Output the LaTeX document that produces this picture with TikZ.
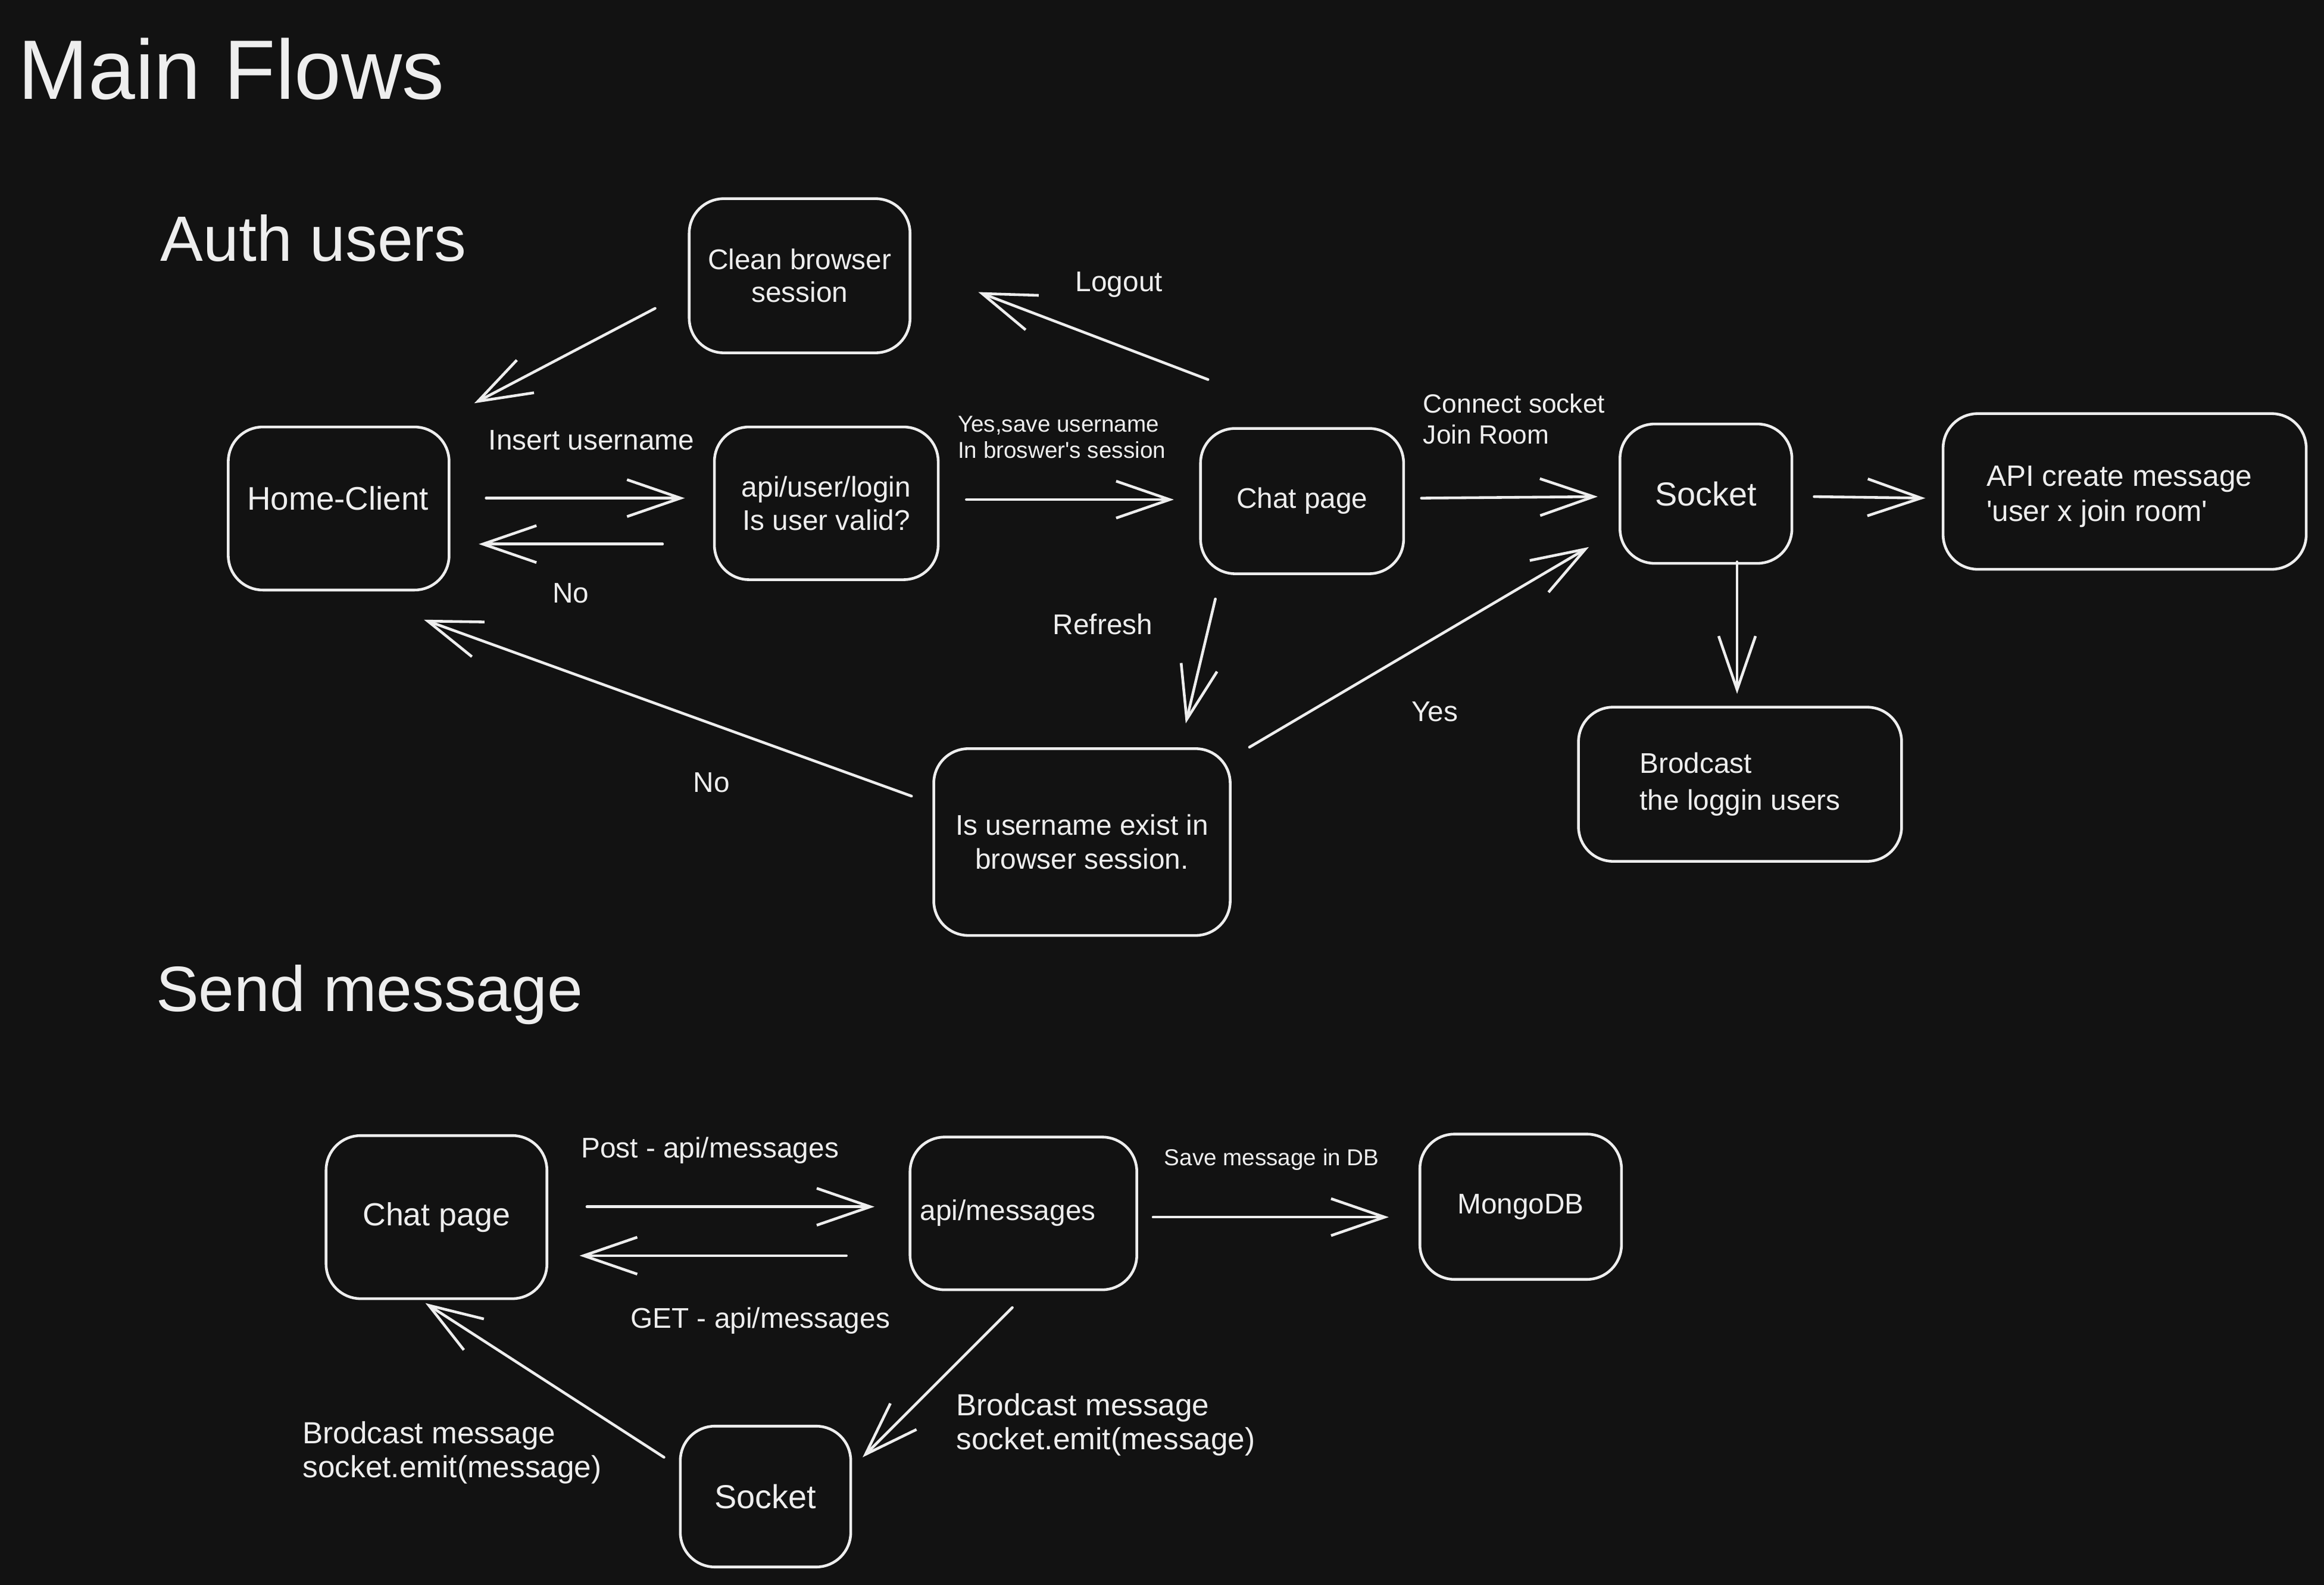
\documentclass[tikz,border=0pt]{standalone}
\usepackage{fontspec}
\setmainfont{Liberation Sans}
\newfontfamily\nqfont{Liberation Sans}
\newcommand{\sq}{{\nqfont'}}
\usetikzlibrary{arrows.meta}
\definecolor{bg}{HTML}{121212}
\definecolor{ink}{HTML}{EEEEEE}
\newcommand{\uu}{0.0249cm}
\begin{document}
\begin{tikzpicture}[x=0.0249cm,y=-0.0249cm,
  box/.style n args={2}{draw=ink, line width=1.3pt, rounded corners=0.58cm,
    minimum width=#1*\uu, minimum height=#2*\uu, inner sep=0pt, outer sep=0pt,
    text=ink, align=center, font=\fontsize{13.6}{15.8}\selectfont},
  lbl/.style={text=ink, inner sep=0pt, align=center, font=\fontsize{13.6}{15.8}\selectfont},
  small/.style={text=ink, inner sep=0pt, align=left, font=\fontsize{11}{12.7}\selectfont},
  big/.style={text=ink, inner sep=0pt, font=\fontsize{15.6}{18}\selectfont},
  title/.style={text=ink, inner sep=0pt, anchor=base west},
  arr/.style={draw=ink, line width=1.3pt, line cap=round, line join=round,
    -{Straight Barb[length=0.9cm, width=0.62cm, line width=1.3pt]}}
]
\fill[bg] (0,0) rectangle (1568,1069);
\useasboundingbox (0,0) rectangle (1568,1069);

% titles
\node[title, font=\fontsize{40.3}{46}\selectfont] (tmain) at (12,67) {Main Flows};
\node[title, font=\fontsize{30.6}{36}\selectfont] (tauth) at (108,176) {Auth users};
\node[title, font=\fontsize{30.6}{36}\selectfont] (tsend) at (105,682) {Send message};

% ---- Auth users boxes
\node[box={149}{104}] (clean) at (539.5,186) {Clean browser\\session};
\node[box={149}{110}] (home) at (228.5,343) {};
\node[big] (homeT) at (228,336) {Home-Client};
\node[box={151}{103}] (login) at (557.5,339.5) {api/user/login\\Is user valid?};
\node[box={137}{98}] (chat) at (878.5,338) {Chat page};
\node[box={116}{94}, font=\fontsize{15.9}{18}\selectfont] (socket) at (1151,333) {Socket};
\node[box={245}{105}] (api) at (1433.5,331.5) {};
\node[lbl, align=left, anchor=west, font=\fontsize{14.1}{17}\selectfont] (apiT) at (1340,335) {API create message\\\sq user x join room\sq};
\node[box={218}{104}, align=left, font=\fontsize{13.6}{17.6}\selectfont] (brod) at (1174,529) {Brodcast\\the loggin users};
\node[box={200}{126}, font=\fontsize{13.6}{16.2}\selectfont] (exist) at (730,568) {Is username exist in\\browser session.};

% ---- Auth users arrows
\draw[arr] ([shift={(-23,22)}]clean.west) -- ([shift={(17,-16)}]home.north east);
\draw[arr] ([shift={(5,-33)}]chat.north west) -- ([shift={(46,11)}]clean.east);
\draw[arr] ([shift={(25,-7)}]home.east) -- ([shift={(-20,-3.5)}]login.west);
\draw[arr] ([shift={(-35,27.5)}]login.west) -- ([shift={(20,24)}]home.east);
\draw[arr] ([shift={(19,-2.5)}]login.east) -- ([shift={(-18,-1)}]chat.west);
\draw[arr] ([shift={(12,-2)}]chat.east) -- ([shift={(-15,2)}]socket.west);
\draw[arr] ([shift={(15,2)}]socket.east) -- ([shift={(-12,4.5)}]api.west);
\draw[arr] ([shift={(21,-1)}]socket.south) -- ([shift={(-2,-9)}]brod.north);
\draw[arr] ([shift={(-58.5,17)}]chat.south) -- ([shift={(70,-17)}]exist.north);
\draw[arr] ([shift={(13,-1)}]exist.north east) -- ([shift={(-21,-11)}]socket.south west);
\draw[arr] ([shift={(-15,-31)}]exist.west) -- ([shift={(57.5,20)}]home.south);

% ---- Auth users labels
\node[lbl] (lInsert) at (399,297) {Insert username};
\node[lbl] (lNo1) at (385,400) {No};
\node[lbl] (lLogout) at (755,192) {Logout};
\node[small, anchor=west] (lYesSave) at (646,295) {Yes,save username\\In broswer\sq s session};
\node[small, anchor=west, font=\fontsize{12.6}{14.8}\selectfont] (lConnect) at (960,282.5) {Connect socket\\Join Room};
\node[lbl] (lRefresh) at (744,421) {Refresh};
\node[lbl] (lYes) at (968,480) {Yes};
\node[lbl] (lNo2) at (480,528) {No};

% ---- Send message boxes
\node[box={149}{110}, font=\fontsize{15.3}{18}\selectfont] (chatB) at (294.5,821) {Chat page};
\node[box={153}{103}] (apim) at (690.5,818.5) {};
\node[lbl] (apimT) at (680,818) {api/messages};
\node[box={136}{98}] (mongo) at (1026,814) {MongoDB};
\node[box={115}{95}, font=\fontsize{15.9}{18}\selectfont] (sockB) at (516.5,1009.5) {Socket};

% ---- Send message arrows
\draw[arr] ([shift={(27,-7)}]chatB.east) -- ([shift={(-24,-4.5)}]apim.west);
\draw[arr] ([shift={(-43,28.5)}]apim.west) -- ([shift={(22,26)}]chatB.east);
\draw[arr] ([shift={(11,2.5)}]apim.east) -- ([shift={(-21,7)}]mongo.west);
\draw[arr] ([shift={(-7.5,12)}]apim.south) -- ([shift={(8,-26.5)}]sockB.east);
\draw[arr] ([shift={(-11,-26.5)}]sockB.west) -- ([shift={(-7.5,3)}]chatB.south);

% ---- Send message labels
\node[lbl] (lPost) at (479,776) {Post - api/messages};
\node[lbl] (lGet) at (513,891) {GET - api/messages};
\node[small] (lSave) at (858,782) {Save message in DB};
\node[lbl, align=left, anchor=west, font=\fontsize{14.6}{16.3}\selectfont] (lBr1) at (645,961) {Brodcast message\\socket.emit(message)};
\node[lbl, align=left, anchor=west, font=\fontsize{14.6}{16.3}\selectfont] (lBr2) at (204,980) {Brodcast message\\socket.emit(message)};
\end{tikzpicture}
\end{document}
